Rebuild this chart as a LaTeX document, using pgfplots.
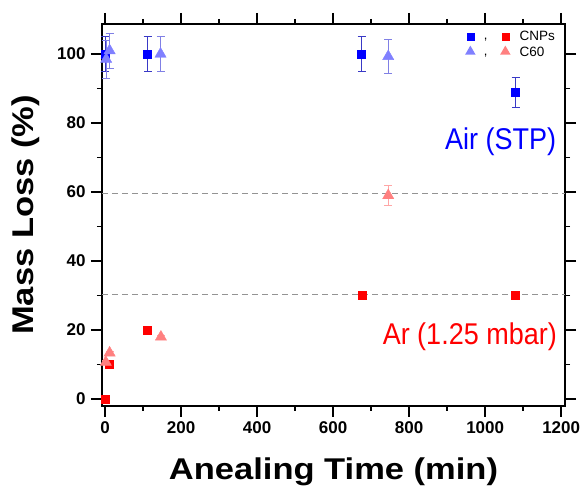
\documentclass[border=0pt]{standalone}
\usepackage{pgfplots}
\pgfplotsset{compat=1.18}
\usetikzlibrary{shapes.geometric}
\usepackage{fontspec}
\setmainfont{Liberation Sans}
\definecolor{sqblue}{RGB}{0,0,255}
\definecolor{tribblue}{RGB}{128,128,255}
\definecolor{sqred}{RGB}{255,0,0}
\definecolor{trired}{RGB}{255,128,128}
\begin{document}
\begin{tikzpicture}
\begin{axis}[
  scale only axis, width=463pt, height=382pt,
  xmin=-8, xmax=1210, ymin=-2, ymax=108.7,
  xtick={0,200,...,1200}, minor x tick num=1,
  ytick={0,20,...,100}, minor y tick num=1,
  tick align=outside, tick pos=both,
  major tick length=11pt, minor tick length=5pt,
  axis line style={line width=2pt},
  every tick/.style={black, line width=1.6pt},
  /pgf/number format/assume math mode=true,
  /pgf/number format/1000 sep={},
  every tick label/.append style={font=\fontsize{17}{18}\selectfont\bfseries},
  xticklabel style={yshift=-1pt},
  yticklabel style={xshift=-2pt},
  xlabel={\scalebox{1.15}[1]{Anealing Time (min)}},
  ylabel={\scalebox{1.15}[1]{Mass Loss (\%)}},
  label style={font=\fontsize{30}{32}\selectfont\bfseries},
  xlabel style={yshift=-17pt},
  ylabel style={yshift=11pt},
  legend style={at={(rel axis cs:1,1)}, anchor=north east, xshift=-5pt, yshift=-3pt,
    draw=none, fill=none, font=\fontsize{13.5}{14}\selectfont, row sep=1pt},
  legend cell align=left,
  clip=false,
]
% dashed guide lines
\addplot[gray!85, dash pattern=on 6pt off 4pt, line width=1.1pt, forget plot] coordinates {(-8,59.6) (1210,59.6)};
\addplot[gray!85, dash pattern=on 6pt off 4pt, line width=1.1pt, forget plot] coordinates {(-8,30.2) (1210,30.2)};

% Air, CNPs (blue squares)
\addplot[forget plot, only marks, mark=square*, mark size=4pt, mark options={draw=sqblue, fill=sqblue},
  error bars/.cd, y dir=both, y explicit,
  error bar style={line width=0.6pt, color=sqblue!55!gray},
  error mark options={rotate=90, mark size=4pt, line width=0.6pt, color=sqblue!55!gray}]
  coordinates {(0,100) +- (0,5) (112,100) +- (0,5) (675,100) +- (0,5) (1080,88.9) +- (0,4.4)};
% Air, C60 (light blue triangles)
\addplot[forget plot, only marks, mark=triangle*, mark size=6.5pt, mark options={draw=tribblue, fill=tribblue},
  error bars/.cd, y dir=both, y explicit,
  error bar style={line width=0.6pt, color=tribblue!80!gray},
  error mark options={rotate=90, mark size=4pt, line width=0.6pt, color=tribblue!80!gray}]
  coordinates {(3,98.5) +- (0,5.5) (12,101) +- (0,5) (146,100) +- (0,5) (745,99.3) +- (0,5)};
% Ar, CNPs (red squares)
\addplot[forget plot, only marks, mark=square*, mark size=4pt, mark options={draw=sqred, fill=sqred},
  error bars/.cd, y dir=both, y explicit,
  error bar style={line width=0.6pt, color=sqred!60},
  error mark options={rotate=90, mark size=3pt, line width=0.6pt, color=sqred!60}]
  coordinates {(0,0) +- (0,0.5) (11,10) +- (0,0.5) (112,20) +- (0,0.5) (676,30) +- (0,0.6) (1080,30) +- (0,0.6)};
% Ar, C60 (light red triangles)
\addplot[forget plot, only marks, mark=triangle*, mark size=6.5pt, mark options={draw=trired, fill=trired},
  error bars/.cd, y dir=both, y explicit,
  error bar style={line width=0.6pt, color=trired!70},
  error mark options={rotate=90, mark size=4pt, line width=0.6pt, color=trired!70}]
  coordinates {(2,10.7) +- (0,0.5) (12,13.4) +- (0,0.5) (147,18) +- (0,0.5) (745,59) +- (0,2.9)};

\addlegendimage{legend image code/.code={
  \node[fill=sqblue, minimum size=8pt, inner sep=0pt] at (0pt,0pt) {};
  \node[font=\fontsize{13}{13}\selectfont, inner sep=0pt] at (17pt,-3pt) {,};
  \node[fill=sqred, minimum size=8pt, inner sep=0pt] at (35pt,0pt) {};
}}
\addlegendentry{\hspace*{7pt}CNPs}
\addlegendimage{legend image code/.code={
  \node[regular polygon, regular polygon sides=3, fill=tribblue, minimum size=12pt, inner sep=0pt] at (0pt,1pt) {};
  \node[font=\fontsize{13}{13}\selectfont, inner sep=0pt] at (17pt,-3pt) {,};
  \node[regular polygon, regular polygon sides=3, fill=trired, minimum size=12pt, inner sep=0pt] at (35pt,1pt) {};
}}
\addlegendentry{\hspace*{7pt}C60}

\node[anchor=base east, text=sqblue, font=\fontsize{30}{32}\selectfont, inner sep=0pt]
  at (axis cs:1187,72.2) {\scalebox{0.9}[1]{Air (STP)}};
\node[anchor=base east, text=sqred, font=\fontsize{30}{32}\selectfont, inner sep=0pt]
  at (axis cs:1189,15.7) {\scalebox{0.9}[1]{Ar (1.25 mbar)}};
\end{axis}
\pgfresetboundingbox
\path ([shift={(-102pt,-81pt)}]current axis.south west) rectangle ([shift={(19pt,24pt)}]current axis.north east);
\end{tikzpicture}
\end{document}
